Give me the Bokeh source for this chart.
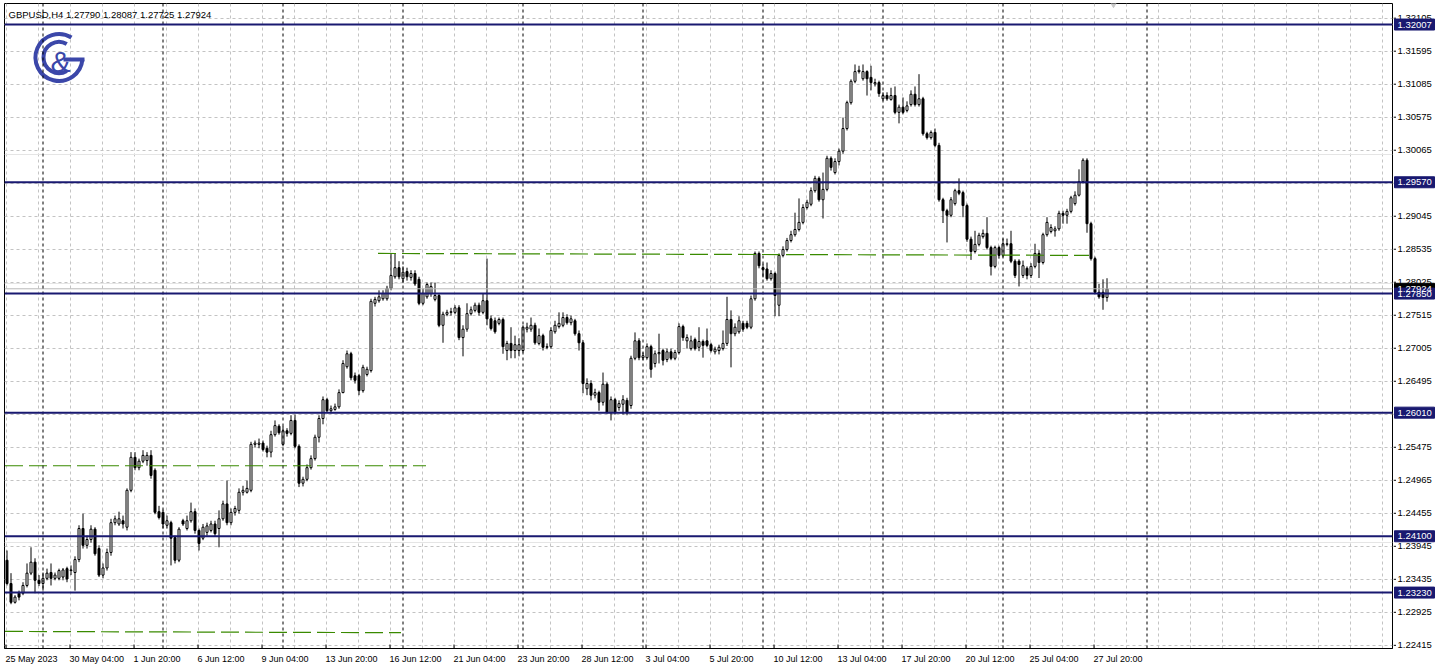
import math
from bokeh.plotting import figure
from bokeh.layouts import row
from bokeh.models import Range1d, FixedTicker, Span, Label, Grid, ColumnDataSource
from bokeh.embed import file_html
from bokeh.resources import INLINE
from bokeh.core.properties import value

# ---------------- data (GBPUSD H4, bar index 0 = 25 May 2023 12:00) ----------------
opens = [
    1.2373, 1.2337, 1.2308, 1.2322, 1.2322, 1.2334, 1.2353, 1.2370, 1.2342, 1.2337,
    1.2345, 1.2354, 1.2345, 1.2345, 1.2347, 1.2360, 1.2357, 1.2354, 1.2374, 1.2422,
    1.2396, 1.2405, 1.2421, 1.2391, 1.2350, 1.2361, 1.2385, 1.2431, 1.2429, 1.2434,
    1.2424, 1.2481, 1.2532, 1.2516, 1.2526, 1.2527, 1.2535, 1.2512, 1.2448, 1.2447,
    1.2427, 1.2431, 1.2408, 1.2373, 1.2434, 1.2422, 1.2434, 1.2448, 1.2419, 1.2407,
    1.2416, 1.2419, 1.2429, 1.2422, 1.2437, 1.2460, 1.2431, 1.2447, 1.2450, 1.2478,
    1.2478, 1.2481, 1.2552, 1.2552, 1.2554, 1.2546, 1.2540, 1.2567, 1.2580, 1.2552,
    1.2573, 1.2569, 1.2589, 1.2549, 1.2492, 1.2498, 1.2516, 1.2530, 1.2563, 1.2592,
    1.2621, 1.2604, 1.2606, 1.2610, 1.2632, 1.2672, 1.2692, 1.2658, 1.2658, 1.2635,
    1.2660, 1.2666, 1.2770, 1.2774, 1.2777, 1.2777, 1.2793, 1.2811, 1.2825, 1.2808,
    1.2819, 1.2810, 1.2816, 1.2807, 1.2770, 1.2780, 1.2785, 1.2776, 1.2782, 1.2736,
    1.2753, 1.2756, 1.2756, 1.2763, 1.2717, 1.2730, 1.2754, 1.2759, 1.2767, 1.2756,
    1.2774, 1.2746, 1.2743, 1.2739, 1.2745, 1.2697, 1.2708, 1.2697, 1.2697, 1.2697,
    1.2730, 1.2730, 1.2736, 1.2708, 1.2720, 1.2702, 1.2703, 1.2726, 1.2734, 1.2736,
    1.2748, 1.2740, 1.2743, 1.2723, 1.2709, 1.2638, 1.2646, 1.2628, 1.2632, 1.2617,
    1.2645, 1.2601, 1.2621, 1.2609, 1.2614, 1.2620, 1.2612, 1.2685, 1.2712, 1.2686,
    1.2686, 1.2703, 1.2677, 1.2692, 1.2697, 1.2683, 1.2695, 1.2685, 1.2694, 1.2734,
    1.2712, 1.2700, 1.2714, 1.2702, 1.2711, 1.2712, 1.2706, 1.2695, 1.2697, 1.2700,
    1.2708, 1.2745, 1.2723, 1.2726, 1.2739, 1.2739, 1.2733, 1.2777, 1.2847, 1.2825,
    1.2823, 1.2808, 1.2816, 1.2767, 1.2844, 1.2853, 1.2867, 1.2876, 1.2884, 1.2895,
    1.2918, 1.2923, 1.2944, 1.2963, 1.2930, 1.2946, 1.2994, 1.2972, 1.2989, 1.3005,
    1.3040, 1.3080, 1.3113, 1.3128, 1.3117, 1.3128, 1.3119, 1.3109, 1.3111, 1.3086,
    1.3091, 1.3085, 1.3091, 1.3065, 1.3073, 1.3068, 1.3077, 1.3093, 1.3077, 1.3086,
    1.3032, 1.3026, 1.3034, 1.3014, 1.2930, 1.2913, 1.2906, 1.2924, 1.2944, 1.2941,
    1.2921, 1.2869, 1.2850, 1.2861, 1.2873, 1.2878, 1.2856, 1.2827, 1.2856, 1.2844,
    1.2861, 1.2862, 1.2835, 1.2835, 1.2813, 1.2824, 1.2813, 1.2827, 1.2847, 1.2833,
    1.2876, 1.2881, 1.2882, 1.2885, 1.2909, 1.2906, 1.2912, 1.2924, 1.2937, 1.2958,
    1.2991, 1.2893, 1.2839, 1.2787, 1.2787, 1.27790,
]
highs = [
    1.2388, 1.2353, 1.2319, 1.2326, 1.2339, 1.2368, 1.2393, 1.2376, 1.2350, 1.2354,
    1.2360, 1.2368, 1.2354, 1.2360, 1.2361, 1.2363, 1.2365, 1.2379, 1.2427, 1.2445,
    1.2411, 1.2427, 1.2424, 1.2396, 1.2368, 1.2391, 1.2437, 1.2442, 1.2448, 1.2442,
    1.2484, 1.2540, 1.2540, 1.2530, 1.2543, 1.2540, 1.2543, 1.2515, 1.2457, 1.2451,
    1.2442, 1.2434, 1.2411, 1.2424, 1.2437, 1.2442, 1.2462, 1.2453, 1.2422, 1.2429,
    1.2431, 1.2434, 1.2434, 1.2450, 1.2465, 1.2496, 1.2453, 1.2457, 1.2484, 1.2488,
    1.2496, 1.2556, 1.2558, 1.2561, 1.2558, 1.2550, 1.2573, 1.2589, 1.2583, 1.2580,
    1.2577, 1.2597, 1.2598, 1.2552, 1.2502, 1.2521, 1.2535, 1.2567, 1.2597, 1.2626,
    1.2624, 1.2612, 1.2615, 1.2637, 1.2682, 1.2697, 1.2695, 1.2663, 1.2661, 1.2675,
    1.2672, 1.2777, 1.2780, 1.2790, 1.2790, 1.2797, 1.2847, 1.2847, 1.2835, 1.2827,
    1.2825, 1.2821, 1.2821, 1.2811, 1.2793, 1.2802, 1.2802, 1.2802, 1.2785, 1.2757,
    1.2760, 1.2763, 1.2767, 1.2767, 1.2736, 1.2770, 1.2765, 1.2771, 1.2771, 1.2785,
    1.2839, 1.2751, 1.2748, 1.2748, 1.2748, 1.2712, 1.2733, 1.2720, 1.2716, 1.2736,
    1.2740, 1.2748, 1.2740, 1.2731, 1.2723, 1.2708, 1.2733, 1.2743, 1.2756, 1.2756,
    1.2753, 1.2751, 1.2746, 1.2728, 1.2713, 1.2654, 1.2651, 1.2638, 1.2635, 1.2663,
    1.2648, 1.2626, 1.2624, 1.2620, 1.2628, 1.2624, 1.2689, 1.2725, 1.2716, 1.2694,
    1.2708, 1.2706, 1.2697, 1.2723, 1.2700, 1.2700, 1.2700, 1.2698, 1.2739, 1.2737,
    1.2722, 1.2720, 1.2717, 1.2733, 1.2714, 1.2731, 1.2709, 1.2703, 1.2706, 1.2728,
    1.2780, 1.2759, 1.2739, 1.2750, 1.2743, 1.2743, 1.2782, 1.2850, 1.2850, 1.2831,
    1.2833, 1.2821, 1.2819, 1.2847, 1.2858, 1.2871, 1.2882, 1.2910, 1.2932, 1.2923,
    1.2930, 1.2949, 1.2967, 1.2966, 1.2972, 1.2998, 1.2997, 1.2994, 1.3009, 1.3057,
    1.3083, 1.3116, 1.3139, 1.3137, 1.3139, 1.3130, 1.3137, 1.3117, 1.3114, 1.3096,
    1.3096, 1.3103, 1.3105, 1.3077, 1.3088, 1.3082, 1.3099, 1.3105, 1.3124, 1.3089,
    1.3035, 1.3037, 1.3040, 1.3018, 1.2933, 1.2916, 1.2934, 1.2947, 1.2963, 1.2944,
    1.2924, 1.2873, 1.2882, 1.2879, 1.2884, 1.2903, 1.2859, 1.2859, 1.2859, 1.2870,
    1.2870, 1.2882, 1.2838, 1.2838, 1.2836, 1.2827, 1.2832, 1.2862, 1.2852, 1.2879,
    1.2903, 1.2892, 1.2889, 1.2913, 1.2913, 1.2916, 1.2936, 1.2943, 1.2977, 1.2994,
    1.2994, 1.2896, 1.2842, 1.2800, 1.2807, 1.28087,
]
lows = [
    1.2334, 1.2305, 1.2306, 1.2311, 1.2319, 1.2331, 1.2350, 1.2322, 1.2333, 1.2326,
    1.2342, 1.2334, 1.2342, 1.2342, 1.2342, 1.2339, 1.2350, 1.2326, 1.2370, 1.2391,
    1.2391, 1.2400, 1.2380, 1.2347, 1.2345, 1.2357, 1.2380, 1.2427, 1.2426, 1.2422,
    1.2419, 1.2478, 1.2512, 1.2512, 1.2523, 1.2519, 1.2499, 1.2444, 1.2436, 1.2422,
    1.2422, 1.2365, 1.2368, 1.2370, 1.2426, 1.2419, 1.2431, 1.2414, 1.2388, 1.2404,
    1.2411, 1.2416, 1.2410, 1.2393, 1.2434, 1.2427, 1.2427, 1.2442, 1.2445, 1.2473,
    1.2476, 1.2478, 1.2547, 1.2546, 1.2541, 1.2532, 1.2532, 1.2564, 1.2567, 1.2549,
    1.2564, 1.2566, 1.2546, 1.2486, 1.2487, 1.2495, 1.2513, 1.2527, 1.2555, 1.2583,
    1.2601, 1.2600, 1.2604, 1.2607, 1.2631, 1.2669, 1.2651, 1.2646, 1.2628, 1.2632,
    1.2657, 1.2663, 1.2765, 1.2771, 1.2774, 1.2774, 1.2790, 1.2808, 1.2807, 1.2802,
    1.2805, 1.2805, 1.2797, 1.2767, 1.2767, 1.2777, 1.2780, 1.2773, 1.2733, 1.2709,
    1.2750, 1.2751, 1.2753, 1.2713, 1.2688, 1.2726, 1.2751, 1.2756, 1.2751, 1.2753,
    1.2736, 1.2728, 1.2723, 1.2736, 1.2692, 1.2682, 1.2685, 1.2685, 1.2688, 1.2694,
    1.2725, 1.2726, 1.2706, 1.2705, 1.2697, 1.2699, 1.2700, 1.2723, 1.2731, 1.2733,
    1.2737, 1.2736, 1.2720, 1.2697, 1.2631, 1.2628, 1.2620, 1.2623, 1.2604, 1.2612,
    1.2600, 1.2589, 1.2598, 1.2604, 1.2598, 1.2597, 1.2607, 1.2682, 1.2682, 1.2682,
    1.2683, 1.2655, 1.2671, 1.2677, 1.2674, 1.2679, 1.2682, 1.2682, 1.2691, 1.2712,
    1.2700, 1.2697, 1.2697, 1.2696, 1.2686, 1.2702, 1.2694, 1.2691, 1.2691, 1.2697,
    1.2704, 1.2671, 1.2719, 1.2723, 1.2726, 1.2730, 1.2730, 1.2774, 1.2824, 1.2810,
    1.2805, 1.2805, 1.2750, 1.2750, 1.2841, 1.2850, 1.2864, 1.2873, 1.2881, 1.2892,
    1.2915, 1.2920, 1.2941, 1.2927, 1.2901, 1.2943, 1.2975, 1.2969, 1.2983, 1.3001,
    1.3037, 1.3077, 1.3110, 1.3125, 1.3114, 1.3091, 1.3099, 1.3105, 1.3089, 1.3083,
    1.3083, 1.3083, 1.3062, 1.3048, 1.3062, 1.3065, 1.3074, 1.3074, 1.3074, 1.3029,
    1.3023, 1.3023, 1.3011, 1.2927, 1.2894, 1.2864, 1.2903, 1.2921, 1.2937, 1.2903,
    1.2865, 1.2837, 1.2847, 1.2858, 1.2870, 1.2853, 1.2813, 1.2824, 1.2839, 1.2841,
    1.2858, 1.2832, 1.2809, 1.2796, 1.2809, 1.2807, 1.2809, 1.2824, 1.2809, 1.2830,
    1.2873, 1.2878, 1.2873, 1.2882, 1.2893, 1.2893, 1.2909, 1.2921, 1.2935, 1.2955,
    1.2879, 1.2836, 1.2784, 1.2777, 1.2760, 1.27725,
]
closes = [
    1.2337, 1.2308, 1.2316, 1.2316, 1.2334, 1.2353, 1.2370, 1.2342, 1.2337, 1.2345,
    1.2353, 1.2345, 1.2350, 1.2357, 1.2358, 1.2344, 1.2358, 1.2374, 1.2422, 1.2396,
    1.2405, 1.2421, 1.2383, 1.2350, 1.2361, 1.2385, 1.2431, 1.2437, 1.2437, 1.2429,
    1.2481, 1.2532, 1.2516, 1.2526, 1.2535, 1.2535, 1.2504, 1.2447, 1.2439, 1.2429,
    1.2434, 1.2407, 1.2373, 1.2421, 1.2429, 1.2434, 1.2448, 1.2419, 1.2399, 1.2424,
    1.2426, 1.2429, 1.2414, 1.2437, 1.2460, 1.2431, 1.2447, 1.2453, 1.2478, 1.2481,
    1.2484, 1.2552, 1.2554, 1.2554, 1.2544, 1.2540, 1.2567, 1.2581, 1.2570, 1.2573,
    1.2569, 1.2589, 1.2549, 1.2492, 1.2498, 1.2516, 1.2530, 1.2563, 1.2592, 1.2621,
    1.2604, 1.2607, 1.2610, 1.2632, 1.2677, 1.2692, 1.2655, 1.2651, 1.2635, 1.2671,
    1.2668, 1.2773, 1.2776, 1.2780, 1.2785, 1.2793, 1.2813, 1.2825, 1.2811, 1.2818,
    1.2811, 1.2816, 1.2800, 1.2770, 1.2785, 1.2799, 1.2796, 1.2782, 1.2736, 1.2753,
    1.2756, 1.2757, 1.2763, 1.2717, 1.2730, 1.2754, 1.2760, 1.2767, 1.2756, 1.2774,
    1.2746, 1.2731, 1.2726, 1.2745, 1.2703, 1.2708, 1.2697, 1.2706, 1.2706, 1.2733,
    1.2733, 1.2736, 1.2709, 1.2720, 1.2702, 1.2703, 1.2728, 1.2736, 1.2739, 1.2748,
    1.2740, 1.2746, 1.2723, 1.2709, 1.2646, 1.2646, 1.2628, 1.2632, 1.2617, 1.2645,
    1.2601, 1.2621, 1.2601, 1.2615, 1.2621, 1.2601, 1.2685, 1.2712, 1.2686, 1.2689,
    1.2703, 1.2668, 1.2692, 1.2694, 1.2682, 1.2695, 1.2685, 1.2694, 1.2734, 1.2717,
    1.2717, 1.2712, 1.2700, 1.2711, 1.2705, 1.2705, 1.2697, 1.2699, 1.2702, 1.2708,
    1.2745, 1.2723, 1.2733, 1.2743, 1.2730, 1.2733, 1.2777, 1.2847, 1.2828, 1.2822,
    1.2808, 1.2816, 1.2782, 1.2844, 1.2853, 1.2867, 1.2876, 1.2884, 1.2895, 1.2918,
    1.2926, 1.2944, 1.2963, 1.2930, 1.2946, 1.2994, 1.2980, 1.2989, 1.3005, 1.3040,
    1.3080, 1.3113, 1.3128, 1.3130, 1.3128, 1.3117, 1.3111, 1.3111, 1.3094, 1.3091,
    1.3086, 1.3091, 1.3065, 1.3073, 1.3065, 1.3075, 1.3093, 1.3077, 1.3086, 1.3032,
    1.3026, 1.3034, 1.3014, 1.2930, 1.2913, 1.2906, 1.2930, 1.2944, 1.2940, 1.2921,
    1.2869, 1.2850, 1.2861, 1.2875, 1.2878, 1.2856, 1.2827, 1.2856, 1.2844, 1.2862,
    1.2862, 1.2835, 1.2813, 1.2830, 1.2828, 1.2813, 1.2827, 1.2847, 1.2833, 1.2876,
    1.2895, 1.2887, 1.2885, 1.2909, 1.2906, 1.2912, 1.2933, 1.2937, 1.2958, 1.2991,
    1.2893, 1.2839, 1.2787, 1.2780, 1.2779, 1.27924,
]

x_tick_bars = [0, 16, 32, 48, 64, 80, 96, 112, 128, 144, 160, 176, 192, 208, 224, 240, 256, 272]
x_tick_labels = ["25 May 2023", "30 May 04:00", "1 Jun 20:00", "6 Jun 12:00", "9 Jun 04:00",
                 "13 Jun 20:00", "16 Jun 12:00", "21 Jun 04:00", "23 Jun 20:00", "28 Jun 12:00",
                 "3 Jul 04:00", "5 Jul 20:00", "10 Jul 12:00", "13 Jul 04:00", "17 Jul 20:00",
                 "20 Jul 12:00", "25 Jul 04:00", "27 Jul 20:00"]
y_ticks = [1.22415, 1.22925, 1.23435, 1.23945, 1.24455, 1.24965, 1.25475, 1.25985, 1.26495,
           1.27005, 1.27515, 1.28025, 1.28535, 1.29045, 1.29555, 1.30065, 1.30575, 1.31085,
           1.31595, 1.32105]
week_starts = [9, 39, 69, 99, 129, 159, 189, 219, 249, 285]
levels = [1.32007, 1.29570, 1.27850, 1.26010, 1.24100, 1.23230]
bid_price = 1.27924
# green dashed trend lines (start bar, start price, end bar, end price)
green_x0 = [-0.5, -0.5, 92.75]
green_y0 = [1.2519, 1.2263, 1.2847]
green_x1 = [104.75, 98.5, 270.5]
green_y1 = [1.2519, 1.2261, 1.2844]
header = "GBPUSD,H4  1.27790 1.28087 1.27725 1.27924"

# ---------------- geometry ----------------
MAIN_W, SCALE_W, H = 1393, 45, 671
B_LEFT, B_RIGHT, B_TOP, B_BOTTOM = 4, 1, 3, 23
FR_W = MAIN_W - B_LEFT - B_RIGHT       # 1388 px -> 4 px per bar
FR_H = H - B_TOP - B_BOTTOM            # 645 px
x_start, x_end = -0.625, 346.375
y_start, y_end = 1.22366, 1.32332
PX_PER_BAR = FR_W / (x_end - x_start)
PRICE_PER_PX = (y_end - y_start) / FR_H

def dx(px):
    return x_start + (px - B_LEFT) / PX_PER_BAR

def dy(py):
    return y_end - (py - B_TOP) * PRICE_PER_PX

FONT = "Liberation Sans"
NAVY = "#191970"
GRID = "#c3c3c3"

# approximate Arial advance widths (per 1000 em) to left-align date labels at their tick
ADV = {' ': 278, ':': 278, 'M': 833, 'a': 556, 'y': 500, 'J': 500, 'u': 556, 'n': 556, 'l': 222}
def text_w(s, size):
    return sum(ADV.get(ch, 556) for ch in s) * size / 1000.0

XLAB_SIZE = 9
x_label_pos = [round(b - 0.375 + text_w(t, XLAB_SIZE) / 2.0 / PX_PER_BAR, 4)
               for b, t in zip(x_tick_bars, x_tick_labels)]

shared_y = Range1d(y_start, y_end)

# ---------------- main chart ----------------
p = figure(width=MAIN_W, height=H, output_backend="svg", toolbar_location=None,
           x_range=Range1d(x_start, x_end), y_range=shared_y,
           x_axis_location="below", y_axis_location=None,
           min_border_left=B_LEFT, min_border_right=B_RIGHT,
           min_border_top=B_TOP, min_border_bottom=B_BOTTOM,
           background_fill_color="white", border_fill_color="white")
p.outline_line_color = "black"
p.outline_line_width = 1

xax = p.xaxis[0]
xax.ticker = FixedTicker(ticks=x_label_pos)
xax.major_label_overrides = {pos: t for pos, t in zip(x_label_pos, x_tick_labels)}
xax.major_label_text_font = FONT
xax.major_label_text_font_size = f"{XLAB_SIZE}px"
xax.major_label_text_color = "black"
xax.major_tick_in = 0
xax.major_tick_out = 0
xax.minor_tick_in = 0
xax.minor_tick_out = 0
xax.major_label_standoff = 5
xax.axis_line_color = "black"

p.xgrid.ticker = FixedTicker(ticks=[8 * k - 0.25 for k in range(44)])
p.xgrid.grid_line_color = GRID
p.xgrid.grid_line_dash = "3 3"
p.add_layout(Grid(dimension=1, ticker=FixedTicker(ticks=y_ticks),
                  grid_line_color=GRID, grid_line_dash="3 3"))

# small tick marks on the time axis
p.segment(x0=[b - 0.25 for b in x_tick_bars], x1=[b - 0.25 for b in x_tick_bars],
          y0=[y_start] * len(x_tick_bars), y1=[y_start + 4 * PRICE_PER_PX] * len(x_tick_bars),
          line_color="black", line_width=1)

# logo
BLUE = "#3b47a9"
lx, ly = dx(58.5), dy(57)
p.arc(x=[lx], y=[ly], radius=23.5, radius_units="screen",
      start_angle=math.radians(58), end_angle=math.radians(355), direction="anticlock",
      line_color=BLUE, line_width=4)
p.arc(x=[lx], y=[ly], radius=15.5, radius_units="screen",
      start_angle=math.radians(60), end_angle=math.radians(300), direction="anticlock",
      line_color=BLUE, line_width=4)
p.segment(x0=[dx(63)], y0=[dy(59)], x1=[dx(84)], y1=[dy(59)], line_color=BLUE, line_width=4)
p.text(x=[dx(60)], y=[dy(61)], text=["&"], text_font=value(FONT), text_font_size="30px",
       text_align="center", text_baseline="middle", text_color=BLUE)

# candles
idx = list(range(len(closes)))
src = ColumnDataSource(dict(
    x=idx, o=opens, h=highs, l=lows, c=closes,
    top=[max(o, c) for o, c in zip(opens, closes)],
    bot=[min(o, c) for o, c in zip(opens, closes)],
    fill=["white" if c >= o else "black" for o, c in zip(opens, closes)],
))
p.segment(x0="x", y0="l", x1="x", y1="h", source=src, line_color="black", line_width=1)
p.vbar(x="x", width=0.5, top="top", bottom="bot", fill_color="fill",
       line_color="black", line_width=1, source=src)

# green dashed trend lines
p.segment(x0=green_x0, y0=green_y0, x1=green_x1, y1=green_y1,
          line_color="#3a8a00", line_width=1.2, line_dash="18 6")

# chart-shift marker
p.scatter(x=[dx(1113)], y=[dy(2)], marker="inverted_triangle", size=9,
          fill_color="#c8c8c8", line_color="#c8c8c8")

# bid line
p.add_layout(Span(location=bid_price, dimension="width", line_color="#b8b8b8", line_width=1))

# week separators
for w in week_starts:
    p.add_layout(Span(location=w, dimension="height", line_color="black",
                      line_width=1, line_dash="3 3"))

# horizontal levels
for lv in levels:
    p.add_layout(Span(location=lv, dimension="width", line_color=NAVY, line_width=2))

# header
p.add_layout(Label(x=dx(8), y=dy(14), text=header, text_color="black", text_font=FONT,
                   text_font_size="9.5px", text_align="left", text_baseline="alphabetic"))

# ---------------- price scale (right), same vertical scale as the chart ----------------
ps = figure(width=SCALE_W, height=H, output_backend="svg", toolbar_location=None,
            x_range=Range1d(0, SCALE_W), y_range=shared_y,
            x_axis_location=None, y_axis_location=None,
            min_border_left=0, min_border_right=0,
            min_border_top=B_TOP, min_border_bottom=B_BOTTOM,
            background_fill_color="white", border_fill_color="white")
ps.outline_line_color = None
ps.grid.visible = False

n = len(y_ticks)
ps.segment(x0=[0] * n, x1=[2.5] * n, y0=y_ticks, y1=y_ticks, line_color="black", line_width=1)
ps.text(x=[4] * n, y=y_ticks, text=[f"{t:.5f}" for t in y_ticks],
        text_font=value(FONT), text_font_size="9.5px", text_color="black",
        text_align="left", text_baseline="middle")

box_prices = [bid_price] + levels
box_colors = ["black"] + [NAVY] * len(levels)
ps.rect(x=[21] * len(box_prices), y=box_prices, width=40, height=11, height_units="screen",
        fill_color=box_colors, line_color=box_colors)
ps.text(x=[4] * len(box_prices), y=box_prices, text=[f"{v:.5f}" for v in box_prices],
        text_font=value(FONT), text_font_size="9.5px", text_color="white",
        text_align="left", text_baseline="middle")

layout = row(p, ps, spacing=0)
open("out.html", "w").write(file_html(layout, INLINE, "GBPUSD H4"))
